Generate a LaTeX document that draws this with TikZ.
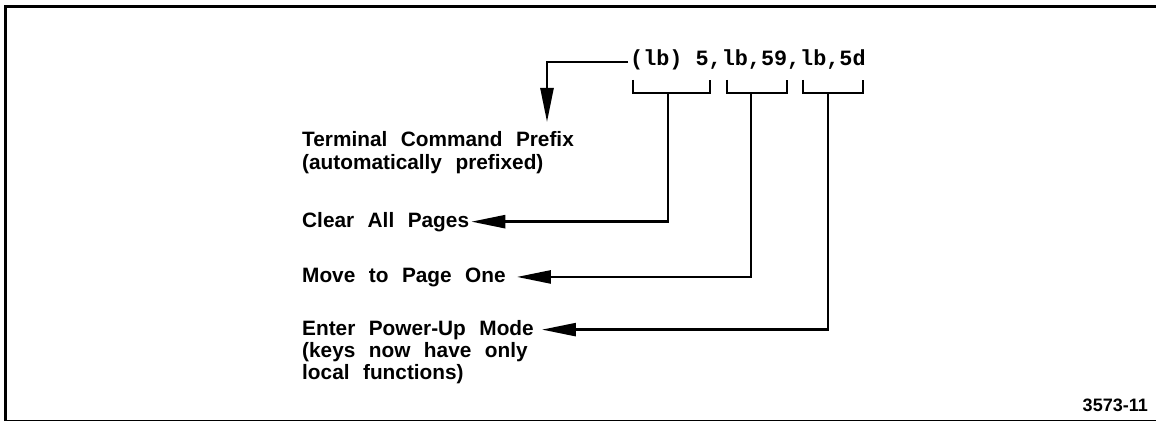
\documentclass[tikz,border=0pt]{standalone}
\usepackage{fontspec}
\setmainfont{Liberation Sans}
\newfontfamily\monofam{Liberation Mono}
\usetikzlibrary{arrows.meta}
\newcommand\lblfont{\fontsize{20.8}{22}\selectfont\bfseries\spaceskip 13.5pt\relax}
\begin{document}
\begin{tikzpicture}[x=1pt,y=-1pt,
  lbl/.style={anchor=base west, inner sep=0pt, font=\lblfont},
  arr/.style={line width=2.5pt, -{Triangle[length=34pt,width=13pt]}},
  brk/.style={line width=2.4pt},
  frame/.style={line width=3pt},
  ]
\useasboundingbox (0,0) rectangle (1156,422);
\draw[frame] (5.5,421) -- (5.5,6.5) -- (1160,6.5);
\draw[line width=1.5pt] (4,420.5) -- (1160,420.5);

\node[anchor=base west, inner sep=0pt, font=\monofam\bfseries\fontsize{21.8}{24}\selectfont] (cmd) at (630,66) {(lb) 5,lb,59,lb,5d};

\node[lbl] (term) at (302,147) {Terminal Command Prefix};
\node[lbl] (term2) at (302,170) {(automatically prefixed)};
\node[lbl] (clear) at (302,227) {Clear All Pages};
\node[lbl] (move) at (302,282) {Move to Page One};
\node[lbl] (enter) at (302,335) {Enter Power-Up Mode};
\node[lbl] (enter2) at (302,357) {(keys now have only};
\node[lbl] (enter3) at (302,379) {local functions)};
\node[anchor=base east, inner sep=0pt, font=\fontsize{18}{19}\selectfont\bfseries] (fig) at (1148,411) {3573-11};

\coordinate (cmdL) at (628,62);
\coordinate (ttip) at (547,122);
\draw[arr] (cmdL) -| (ttip);

\draw[brk] (633,80) -- (633,93) -- (710,93) -- (710,80);
\draw[brk] (727,80) -- (727,93) -- (787,93) -- (787,80);
\draw[brk] (803,80) -- (803,93) -- (863,93) -- (863,80);
\coordinate (b1) at (668,93);
\coordinate (b2) at (751,93);
\coordinate (b3) at (828,93);

\draw[arr] (b1) |- ([xshift=2pt]clear.east);
\draw[arr] (b2) |- ([xshift=11pt]move.east);
\draw[arr] (b3) |- ([xshift=8pt]enter.east);
\end{tikzpicture}
\end{document}
